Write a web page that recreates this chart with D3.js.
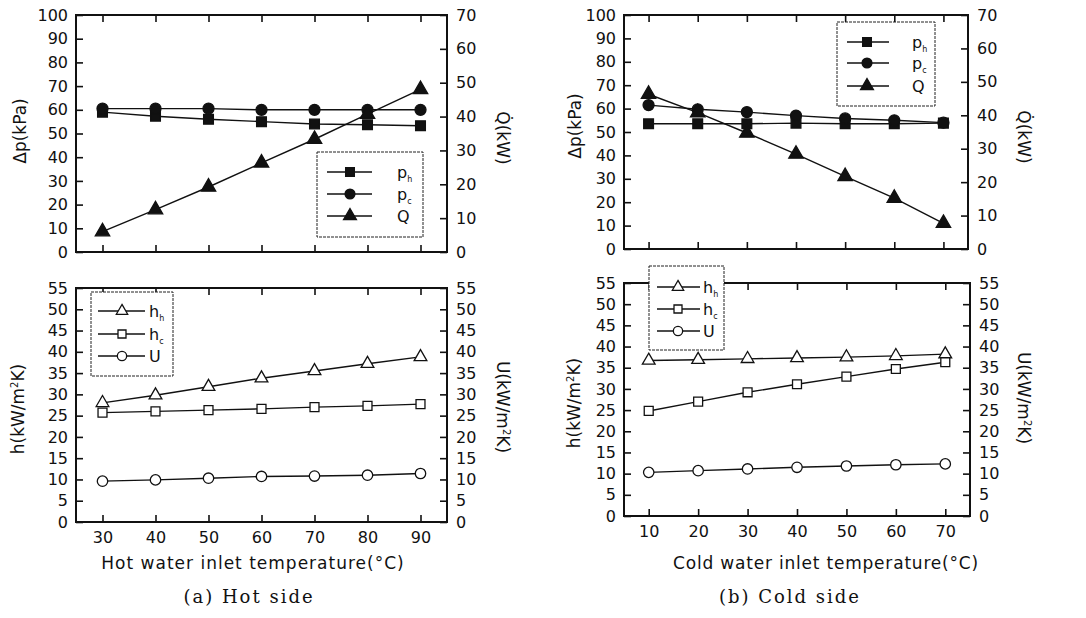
<!DOCTYPE html>
<html>
<head>
<meta charset="utf-8">
<script src="https://cdn.jsdelivr.net/npm/d3@7"></script>
<style>
  body { margin: 0; background: #fff; }
  svg text { font-family: "DejaVu Sans", sans-serif; fill: #111; }
</style>
</head>
<body>
<svg id="chart" width="1086" height="618"></svg>
<script>
// x values (inlet temperature, °C)
const hotTemps = [30, 40, 50, 60, 70, 80, 90];
const coldTemps = [10, 20, 30, 40, 50, 60, 70];

// hot side: pressure drop (kPa) and heat rate (kW)
const hotPh = [59, 57.3, 56, 55, 54, 53.7, 53.3];
const hotPc = [60.5, 60.5, 60.5, 60, 60, 60, 60];
const hotQ = [6.0, 12.5, 19.2, 26.3, 33.3, 40.7, 48.0];
// hot side: heat transfer coefficients (kW/m2K)
const hotHh = [28, 29.8, 31.8, 33.8, 35.5, 37.2, 38.8];
const hotHc = [25.7, 26.0, 26.3, 26.6, 27.0, 27.3, 27.7];
const hotU = [9.6, 9.9, 10.3, 10.7, 10.8, 11.0, 11.4];

// cold side
const coldPh = [53.5, 53.5, 53.5, 53.8, 53.5, 53.5, 53.8];
const coldPc = [61.5, 59.7, 58.5, 57, 55.8, 55, 54];
const coldQ = [46.3, 40.8, 34.7, 28.4, 21.7, 15.2, 7.7];
const coldHh = [36.7, 36.9, 37.1, 37.3, 37.5, 37.8, 38.2];
const coldHc = [24.8, 27.0, 29.2, 31.1, 32.9, 34.7, 36.3];
const coldU = [10.3, 10.7, 11.1, 11.5, 11.8, 12.1, 12.3];

// tick values
const dpTicks = d3.range(0, 101, 10);
const qTicks = d3.range(0, 71, 10);
const hTicks = d3.range(0, 56, 5);

const svg = d3.select("#chart");

function plot(cfg) {
    const g = svg.append("g");
    const x = d3.scaleLinear().domain(cfg.xDomain).range([cfg.left, cfg.right]);
    const yL = d3.scaleLinear().domain(cfg.yLDomain).range([cfg.bottom, cfg.top]);
    const yR = d3.scaleLinear().domain(cfg.yRDomain).range([cfg.bottom, cfg.top]);

    const styleAxis = sel => {
        sel.select(".domain").remove();
        sel.selectAll(".tick line").attr("stroke", "#111").attr("stroke-width", 1.6);
        sel.selectAll("text").style("font-size", "16px").attr("fill", "#111");
        sel.attr("font-family", null).attr("font-size", null);
    };

    g.append("g")
        .attr("transform", `translate(0,${cfg.bottom})`)
        .call(d3.axisBottom(x).tickValues(cfg.xTicks).tickSize(-7).tickPadding(10)
            .tickFormat(cfg.xLabels ? d3.format("d") : ""))
        .call(styleAxis);
    g.append("g")
        .attr("transform", `translate(0,${cfg.top})`)
        .call(d3.axisTop(x).tickValues(cfg.xTicks).tickSize(-7).tickFormat(""))
        .call(styleAxis);
    g.append("g")
        .attr("transform", `translate(${cfg.left},0)`)
        .call(d3.axisLeft(yL).tickValues(cfg.yLTicks).tickSize(-7).tickPadding(8))
        .call(styleAxis);
    g.append("g")
        .attr("transform", `translate(${cfg.right},0)`)
        .call(d3.axisRight(yR).tickValues(cfg.yRTicks).tickSize(-7).tickPadding(9))
        .call(styleAxis);

    // frame
    g.append("rect")
        .attr("x", cfg.left).attr("y", cfg.top)
        .attr("width", cfg.right - cfg.left).attr("height", cfg.bottom - cfg.top)
        .attr("fill", "none").attr("stroke", "#111").attr("stroke-width", 2);

    // series
    cfg.series.forEach(s => {
        const y = s.axis === "right" ? yR : yL;
        const pts = cfg.xs.map((d, i) => [x(d), y(s.values[i])]);
        g.append("path")
            .attr("d", d3.line()(pts))
            .attr("fill", "none").attr("stroke", "#111").attr("stroke-width", 1.4);
        g.selectAll(null).data(pts).join("path")
            .attr("transform", d => `translate(${d[0]},${d[1]})`)
            .attr("d", d3.symbol().type(s.symbol).size(s.size))
            .attr("fill", s.fill).attr("stroke", "#111").attr("stroke-width", 1.3);
    });

    // axis titles
    g.append("text")
        .attr("transform", `translate(${cfg.yLTitlePos[0]},${cfg.yLTitlePos[1]}) rotate(-90)`)
        .attr("text-anchor", "middle").attr("dy", "0.35em")
        .style("font-size", "17px")
        .call(cfg.yLTitle);
    g.append("text")
        .attr("transform", `translate(${cfg.yRTitlePos[0]},${cfg.yRTitlePos[1]}) rotate(90)`)
        .attr("text-anchor", "middle").attr("dy", "0.35em")
        .style("font-size", "17px")
        .call(cfg.yRTitle);

    // legend
    const lg = cfg.legend;
    g.append("rect")
        .attr("x", lg.x).attr("y", lg.y).attr("width", lg.w).attr("height", lg.h)
        .attr("fill", "#fff").attr("stroke", "#222").attr("stroke-width", 1)
        .attr("stroke-dasharray", "3,1");
    cfg.series.forEach((s, i) => {
        const ry = lg.rows[i];
        g.append("line")
            .attr("x1", lg.line[0]).attr("x2", lg.line[1]).attr("y1", ry).attr("y2", ry)
            .attr("stroke", "#111").attr("stroke-width", 1.4);
        g.append("path")
            .attr("transform", `translate(${lg.marker},${ry})`)
            .attr("d", d3.symbol().type(s.symbol).size(s.size * 0.8))
            .attr("fill", s.fill).attr("stroke", "#111").attr("stroke-width", 1.3);
        const t = g.append("text")
            .attr("x", lg.label).attr("y", ry).attr("dy", "0.35em")
            .style("font-size", "16px")
            .text(s.name);
        if (s.sub) {
            t.append("tspan").attr("dy", "4").style("font-size", "8px").text(s.sub);
        }
    });
}

const dpTitle = t => t.text("Δp(kPa)");
const qTitle = t => t.text("Q\u0307(kW)");
const hTitle = t => {
    t.text("h(kW/m");
    t.append("tspan").attr("dy", "-6").style("font-size", "10px").text("2");
    t.append("tspan").attr("dy", "6").text("K)");
};
const uTitle = t => {
    t.text("U(kW/m");
    t.append("tspan").attr("dy", "-6").style("font-size", "10px").text("2");
    t.append("tspan").attr("dy", "6").text("K)");
};

// (a) hot side, top
plot({
    left: 76, right: 447, top: 15, bottom: 252,
    xDomain: [25, 95], xTicks: hotTemps, xs: hotTemps, xLabels: false,
    yLDomain: [0, 100], yLTicks: dpTicks, yRDomain: [0, 70], yRTicks: qTicks,
    yLTitle: dpTitle, yLTitlePos: [20, 131], yRTitle: qTitle, yRTitlePos: [503, 138],
    series: [
        {name: "p", sub: "h", values: hotPh, axis: "left", symbol: d3.symbolSquare, size: 95, fill: "#111"},
        {name: "p", sub: "c", values: hotPc, axis: "left", symbol: d3.symbolCircle, size: 95, fill: "#111"},
        {name: "Q", values: hotQ, axis: "right", symbol: d3.symbolTriangle, size: 90, fill: "#111"}
    ],
    legend: {x: 317, y: 152, w: 106, h: 85, rows: [172, 194, 216], line: [327, 372], marker: 350, label: 397}
});

// (a) hot side, bottom
plot({
    left: 76, right: 447, top: 288, bottom: 522,
    xDomain: [25, 95], xTicks: hotTemps, xs: hotTemps, xLabels: true,
    yLDomain: [0, 55], yLTicks: hTicks, yRDomain: [0, 55], yRTicks: hTicks,
    yLTitle: hTitle, yLTitlePos: [18, 409], yRTitle: uTitle, yRTitlePos: [503, 407],
    series: [
        {name: "h", sub: "h", values: hotHh, axis: "left", symbol: d3.symbolTriangle, size: 70, fill: "#fff"},
        {name: "h", sub: "c", values: hotHc, axis: "left", symbol: d3.symbolSquare, size: 80, fill: "#fff"},
        {name: "U", values: hotU, axis: "right", symbol: d3.symbolCircle, size: 85, fill: "#fff"}
    ],
    legend: {x: 91, y: 292, w: 82, h: 84, rows: [311, 334, 356], line: [98, 145], marker: 122, label: 149}
});

// (b) cold side, top
plot({
    left: 624, right: 968, top: 15, bottom: 249,
    xDomain: [5, 75], xTicks: coldTemps, xs: coldTemps, xLabels: false,
    yLDomain: [0, 100], yLTicks: dpTicks, yRDomain: [0, 70], yRTicks: qTicks,
    yLTitle: dpTitle, yLTitlePos: [575, 126], yRTitle: qTitle, yRTitlePos: [1024, 137],
    series: [
        {name: "p", sub: "h", values: coldPh, axis: "left", symbol: d3.symbolSquare, size: 95, fill: "#111"},
        {name: "p", sub: "c", values: coldPc, axis: "left", symbol: d3.symbolCircle, size: 95, fill: "#111"},
        {name: "Q", values: coldQ, axis: "right", symbol: d3.symbolTriangle, size: 90, fill: "#111"}
    ],
    legend: {x: 837, y: 22, w: 98, h: 84, rows: [42, 63, 86], line: [847, 889], marker: 867, label: 912}
});

// (b) cold side, bottom
plot({
    left: 624, right: 970, top: 283, bottom: 516,
    xDomain: [5, 75], xTicks: coldTemps, xs: coldTemps, xLabels: true,
    yLDomain: [0, 55], yLTicks: hTicks, yRDomain: [0, 55], yRTicks: hTicks,
    yLTitle: hTitle, yLTitlePos: [574, 403], yRTitle: uTitle, yRTitlePos: [1024, 398],
    series: [
        {name: "h", sub: "h", values: coldHh, axis: "left", symbol: d3.symbolTriangle, size: 70, fill: "#fff"},
        {name: "h", sub: "c", values: coldHc, axis: "left", symbol: d3.symbolSquare, size: 80, fill: "#fff"},
        {name: "U", values: coldU, axis: "right", symbol: d3.symbolCircle, size: 85, fill: "#fff"}
    ],
    legend: {x: 649, y: 266, w: 75, h: 84, rows: [287, 309, 331], line: [657, 700], marker: 678, label: 703}
});

// x axis titles and captions
svg.append("text").attr("x", 253).attr("y", 563).attr("text-anchor", "middle").attr("dy", "0.35em")
    .style("font-size", "17px").style("letter-spacing", "1px")
    .text("Hot water inlet temperature(°C)");
svg.append("text").attr("x", 826).attr("y", 563).attr("text-anchor", "middle").attr("dy", "0.35em")
    .style("font-size", "17px").style("letter-spacing", "0.8px")
    .text("Cold water inlet temperature(°C)");
svg.append("text").attr("x", 249).attr("y", 597).attr("text-anchor", "middle").attr("dy", "0.35em")
    .style("font-family", "'DejaVu Serif', serif").style("font-size", "18px").style("letter-spacing", "2px")
    .text("(a) Hot side");
svg.append("text").attr("x", 790).attr("y", 597).attr("text-anchor", "middle").attr("dy", "0.35em")
    .style("font-family", "'DejaVu Serif', serif").style("font-size", "18px").style("letter-spacing", "2px")
    .text("(b) Cold side");
</script>
</body>
</html>
